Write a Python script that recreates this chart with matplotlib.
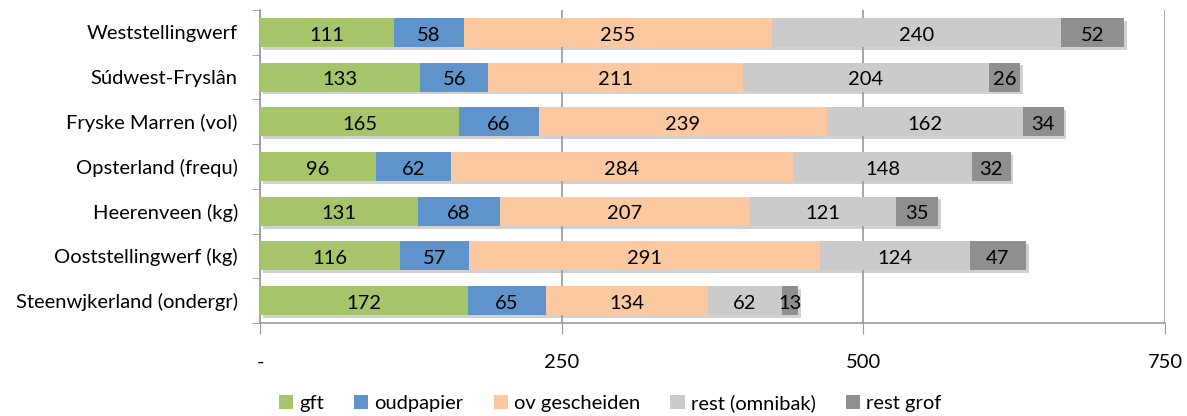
import numpy as np
import matplotlib.pyplot as plt
import matplotlib.patheffects as pe

plt.rcParams['font.family'] = ['Lato', 'DejaVu Sans']

# data
gemeenten = ['Weststellingwerf', 'Súdwest-Fryslân', 'Fryske Marren (vol)',
             'Opsterland (frequ)', 'Heerenveen (kg)', 'Ooststellingwerf (kg)',
             'Steenwjkerland (ondergr)']
series = ['gft', 'oudpapier', 'ov gescheiden', 'rest (omnibak)', 'rest grof']
gft = [111, 133, 165, 96, 131, 116, 172]
oudpapier = [58, 56, 66, 62, 68, 57, 65]
ov_gescheiden = [255, 211, 239, 284, 207, 291, 134]
rest_omnibak = [240, 204, 162, 148, 121, 124, 62]
rest_grof = [52, 26, 34, 32, 35, 47, 13]
xticks = [0, 250, 500, 750]
xticklabels = ['-', '250', '500', '750']

colors = ['#A6C46A', '#5E93CB', '#FBC8A0', '#CBCBCB', '#8F8F8F']
values = [gft, oudpapier, ov_gescheiden, rest_omnibak, rest_grof]
fs = 14.5

fig = plt.figure(figsize=(11.87, 4.16), dpi=100)
ax = fig.add_axes([260 / 1187, 1 - 323 / 416, 905 / 1187, 313 / 416])

y = np.arange(len(gemeenten))
left = np.zeros(len(gemeenten))
all_bars = []
for name, vals, col in zip(series, values, colors):
    vals = np.array(vals, dtype=float)
    bars = ax.barh(y, vals, left=left, height=0.65, color=col, label=name, zorder=3)
    all_bars.extend(bars)
    for yi, l, v in zip(y, left, vals):
        ax.text(l + v / 2, yi + 0.06, f'{int(v)}', ha='center', va='center',
                fontsize=fs, color='black', zorder=5)
    left += vals

ax.set_xlim(0, 750)
ax.set_ylim(len(gemeenten) - 0.5, -0.5)
ax.set_yticks(y)
ax.set_yticklabels(gemeenten, fontsize=fs)
ax.set_yticks(np.arange(-0.5, len(gemeenten)), minor=True)
ax.tick_params(axis='y', which='major', length=0, pad=16)
ax.tick_params(axis='y', which='minor', length=6, color='#999999', direction='out')
ax.set_xticks(xticks)
ax.set_xticklabels(xticklabels, fontsize=fs)
ax.tick_params(axis='x', length=8, color='#999999', pad=14)
ax.grid(axis='x', color='#999999', linewidth=1.2, zorder=0)
for s in ['top', 'right']:
    ax.spines[s].set_visible(False)
for s in ['left', 'bottom']:
    ax.spines[s].set_color('#999999')
    ax.spines[s].set_linewidth(1.2)

ax.legend(loc='center', bbox_to_anchor=(0.387, -0.255), ncol=5, frameon=False,
          fontsize=fs, handlelength=0.7, handleheight=0.7, handletextpad=0.3,
          columnspacing=1.5)

# subtle drop shadow on bars, after the legend so the handles stay flat
shadow = [pe.SimplePatchShadow(offset=(2, -2), shadow_rgbFace='#999999', alpha=0.45), pe.Normal()]
for b in all_bars:
    b.set_path_effects(shadow)

fig.savefig('out.png', dpi=100)
